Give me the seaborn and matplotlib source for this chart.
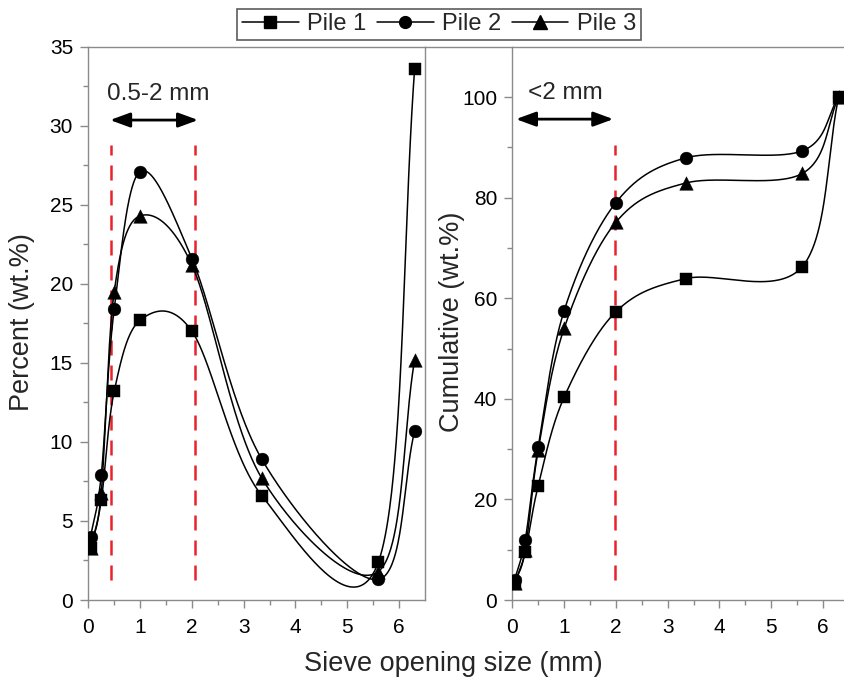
import numpy as np
import pandas as pd
import matplotlib
matplotlib.use("Agg")
import matplotlib.pyplot as plt
from matplotlib.lines import Line2D
import seaborn as sns

# ---------------- data ----------------
sizes = [0.045, 0.25, 0.5, 1.0, 2.0, 3.35, 5.6, 6.3]
piles = ["Pile 1", "Pile 2", "Pile 3"]

percent_p1 = [3.3, 6.3, 13.2, 17.7, 17.0, 6.6, 2.4, 33.6]
percent_p2 = [4.0, 7.9, 18.4, 27.1, 21.6, 8.9, 1.3, 10.7]
percent_p3 = [3.3, 6.8, 19.5, 24.3, 21.2, 7.7, 1.8, 15.2]

cumul_p1 = [3.3, 9.5, 22.7, 40.3, 57.3, 63.9, 66.3, 100.0]
cumul_p2 = [4.0, 12.0, 30.4, 57.5, 79.0, 87.9, 89.3, 100.0]
cumul_p3 = [3.3, 9.9, 29.8, 54.0, 75.1, 82.9, 84.8, 100.0]

x_ticks = [0, 1, 2, 3, 4, 5, 6]
left_y_ticks = [0, 5, 10, 15, 20, 25, 30, 35]
right_y_ticks = [0, 20, 40, 60, 80, 100]

percent = {"Pile 1": percent_p1, "Pile 2": percent_p2, "Pile 3": percent_p3}
cumul = {"Pile 1": cumul_p1, "Pile 2": cumul_p2, "Pile 3": cumul_p3}
markers = {"Pile 1": "s", "Pile 2": "o", "Pile 3": "^"}
msizes = {"Pile 1": 70, "Pile 2": 85, "Pile 3": 95}


def screen_spline(ax, x, y, n=80):
    """Catmull-Rom curve through the points, built in screen space."""
    P = ax.transData.transform(np.column_stack([x, y]))
    E = np.vstack([2 * P[0] - P[1], P, 2 * P[-1] - P[-2]])
    t = np.linspace(0, 1, n)[:, None]
    h00 = 2 * t ** 3 - 3 * t ** 2 + 1
    h10 = t ** 3 - 2 * t ** 2 + t
    h01 = -2 * t ** 3 + 3 * t ** 2
    h11 = t ** 3 - t ** 2
    segs = []
    for i in range(1, len(E) - 2):
        p0, p1 = E[i], E[i + 1]
        m0 = (E[i + 1] - E[i - 1]) / 2
        m1 = (E[i + 2] - E[i]) / 2
        segs.append(h00 * p0 + h10 * m0 + h01 * p1 + h11 * m1)
    S = np.vstack(segs)
    D = ax.transData.inverted().transform(S)
    return D[:, 0], D[:, 1]


sns.set_theme(style="ticks")
plt.rcParams["font.family"] = ["Liberation Sans", "DejaVu Sans"]

W, H = 845, 687
fig = plt.figure(figsize=(W / 100, H / 100), dpi=100)

gray = "#8a8a8a"
ax1 = fig.add_axes([88.3 / W, 1 - 600 / H, 336.7 / W, 553.3 / H])
ax2 = fig.add_axes([512.3 / W, 1 - 600 / H, 336.7 / W, 553.3 / H])

ax1.set_xlim(0, 6.5)
ax2.set_xlim(0, 6.5)
ax1.set_ylim(0, 35)
ax2.set_ylim(0, 110)

for ax, data in ((ax1, percent), (ax2, cumul)):
    for p in piles:
        xs, ys = screen_spline(ax, sizes, data[p])
        sns.lineplot(x=xs, y=ys, ax=ax, color="black", lw=1.1, sort=False,
                     estimator=None, zorder=2)
    for p in piles:
        sns.scatterplot(x=sizes, y=data[p], ax=ax, marker=markers[p],
                        s=msizes[p], color="black", edgecolor="black",
                        linewidth=0.3, zorder=3, legend=False)
    ax.set_xlim(0, 6.5)
    ax.set_xticks(x_ticks)
    ax.set_xticks(np.arange(0.5, 6.5, 1.0), minor=True)
    ax.set_xlabel("")
    ax.set_ylabel("")
    for s in ax.spines.values():
        s.set_color(gray)
        s.set_linewidth(1.0)
    ax.tick_params(which="major", direction="out", length=6, width=1.0,
                   color=gray, labelsize=15, labelcolor="black", pad=5)
    ax.tick_params(axis="x", which="major", pad=7)
    ax.tick_params(which="minor", direction="out", length=3.5, width=1.0,
                   color=gray)

ax1.set_ylim(0, 35)
ax1.set_yticks(left_y_ticks)
ax1.set_yticks(np.arange(2.5, 35, 5), minor=True)
ax2.set_ylim(0, 110)
ax2.set_yticks(right_y_ticks)
ax2.set_yticks(np.arange(10, 110, 20), minor=True)

red = "#e8222a"
for ax, xv in ((ax1, 0.44), (ax1, 2.06), (ax2, 1.98)):
    ax.axvline(xv, ymin=0.036, ymax=0.822, color=red, lw=1.8,
               dashes=(6, 4), zorder=1)

arrow = dict(arrowstyle="<|-|>,head_length=0.6,head_width=0.22", color="black",
             lw=2.0, shrinkA=0, shrinkB=0, mutation_scale=20)
ax1.annotate("", xy=(2.12, 30.36), xytext=(0.42, 30.36), arrowprops=arrow)
ax2.annotate("", xy=(1.95, 95.6), xytext=(0.07, 95.6), arrowprops=arrow)
ax1.text(1.36, 32.0, "0.5-2 mm", fontsize=17.5, ha="center", va="center")
ax2.text(1.03, 100.8, "<2 mm", fontsize=17.5, ha="center", va="center")

# top border across the gap between the two panels
fig.add_artist(Line2D([425 / W, 512.3 / W], [1 - 46.7 / H, 1 - 46.7 / H],
                      transform=fig.transFigure, color=gray, lw=1.0))

fig.text(453 / W, 1 - 664 / H, "Sieve opening size (mm)", fontsize=19.5,
         ha="center", va="center")
fig.text(22 / W, 1 - 322 / H, "Percent (wt.%)", fontsize=19.5, rotation=90,
         ha="center", va="center")
fig.text(452 / W, 1 - 322 / H, "Cumulative (wt.%)", fontsize=19.5, rotation=90,
         ha="center", va="center")

handles = [Line2D([], [], color="black", lw=1.1, marker=markers[p],
                  markersize=8.5 if p != "Pile 3" else 9.5,
                  markerfacecolor="black", markeredgecolor="black")
           for p in piles]
leg = fig.legend(handles, piles, loc="center", bbox_to_anchor=(439 / W, 1 - 24.5 / H),
                 ncol=3, fontsize=17, frameon=True, fancybox=False,
                 handlelength=2.4, handletextpad=0.35, columnspacing=0.45,
                 borderpad=0.2, borderaxespad=0, numpoints=1)
leg.get_frame().set_edgecolor("#333333")
leg.get_frame().set_linewidth(1.2)

fig.savefig("out.png", dpi=100)
